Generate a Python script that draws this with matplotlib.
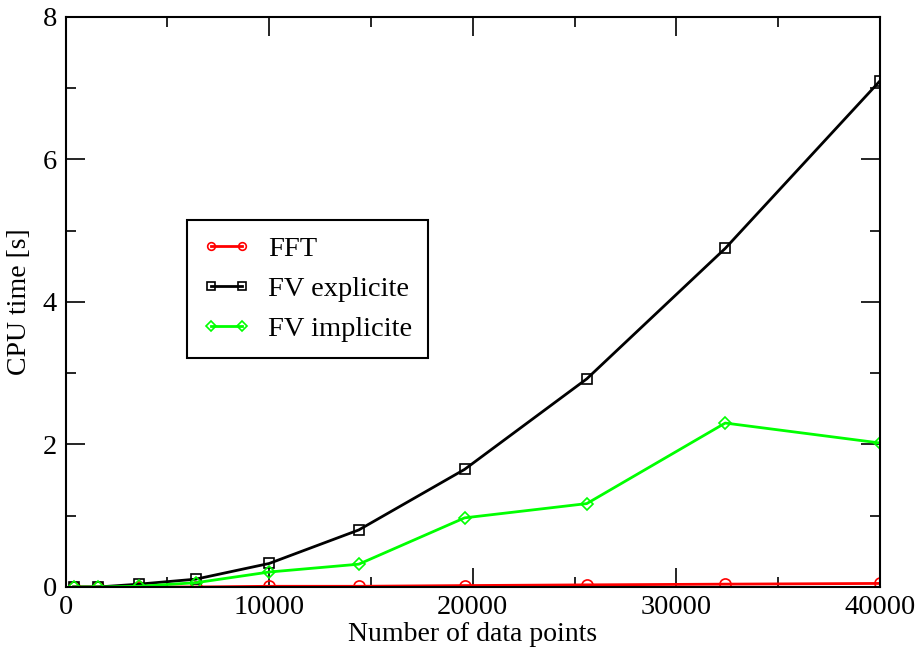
import matplotlib
matplotlib.use("Agg")
import matplotlib.pyplot as plt
from matplotlib.ticker import MultipleLocator

plt.rcParams['font.family'] = ['Liberation Serif', 'DejaVu Serif']

n_points = [400, 1600, 3600, 6400, 10000, 14400, 19600, 25600, 32400, 40000]
fft = [0.0, 0.0, 0.0, 0.0, 0.01, 0.01, 0.02, 0.03, 0.04, 0.05]
fv_explicite = [0.0, 0.0, 0.04, 0.11, 0.33, 0.80, 1.65, 2.92, 4.75, 7.10]
fv_implicite = [0.0, 0.0, 0.01, 0.06, 0.21, 0.32, 0.97, 1.17, 2.30, 2.02]

fig = plt.figure(figsize=(9.17, 6.49), dpi=100)
ax = fig.add_axes([65.5/917, 1-587/649, (880-65.5)/917, (587-16.7)/649])

ax.plot(n_points, fft, color='#ff0000', lw=2, marker='o', ms=8, mfc='none', mew=1.2, label='FFT')
ax.plot(n_points, fv_explicite, color='black', lw=2, marker='s', ms=7, mfc='none', mew=1.2, label='FV explicite')
ax.plot(n_points, fv_implicite, color='#00ff00', lw=2, marker='D', ms=6, mfc='none', mew=1.2, label='FV implicite')

ax.set_xlim(0, 40000)
ax.set_ylim(0, 8)
ax.xaxis.set_major_locator(MultipleLocator(10000))
ax.xaxis.set_minor_locator(MultipleLocator(5000))
ax.yaxis.set_major_locator(MultipleLocator(2))
ax.yaxis.set_minor_locator(MultipleLocator(1))
ax.tick_params(which='both', direction='in', top=True, right=True, labelsize=20.5, width=1.2)
ax.tick_params(which='major', length=14, pad=6)
ax.tick_params(which='minor', length=7)
for s in ax.spines.values():
    s.set_linewidth(1.5)

ax.set_xlabel('Number of data points', fontsize=20, labelpad=1)
ax.set_ylabel('CPU time [s]', fontsize=20, labelpad=8)

leg = ax.legend(loc='upper left', bbox_to_anchor=(0.149, 0.6435), borderaxespad=0,
                fancybox=False, edgecolor='black', fontsize=20.5, numpoints=2,
                handlelength=1.7, handletextpad=0.6, framealpha=1,
                borderpad=0.55, labelspacing=0.5)
leg.get_frame().set_linewidth(1.5)
for h in leg.legend_handles:
    h.set_markersize(5.5)

fig.savefig('out.png', dpi=100)
